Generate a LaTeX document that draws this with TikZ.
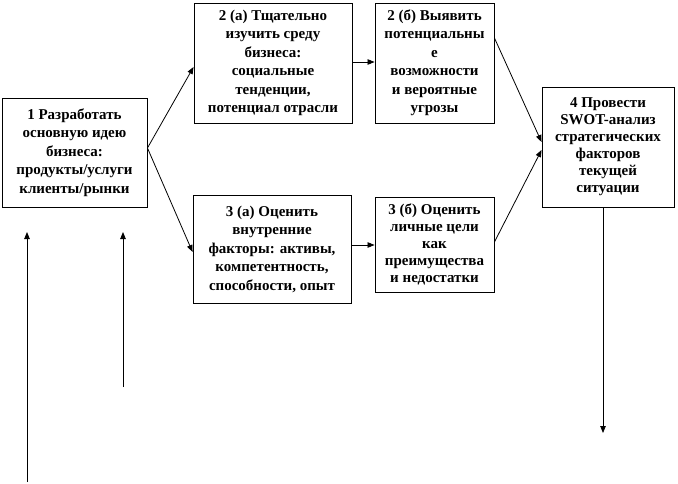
\documentclass[tikz,border=0pt]{standalone}
\usepackage{fontspec}
\setmainfont{Liberation Serif}
\usetikzlibrary{arrows.meta,calc}
\tikzset{
  box/.style={draw=black, line width=0.9pt, rectangle, inner sep=0pt, align=center,
    font=\bfseries\fontsize{15}{18.5}\selectfont},
  arr/.style={draw=black, line width=0.8pt, -{Triangle[length=7pt,width=5.5pt]}},
}
\begin{document}
\begin{tikzpicture}[x=1pt,y=-1pt]
\useasboundingbox (0,0) rectangle (678,484);
\node[box, minimum width=145pt, minimum height=109pt] (b1) at (74.5,152.5)
  {1 Разработать\\основную идею\\бизнеса:\\продукты/услуги\\клиенты/рынки};
\node[box, minimum width=158pt, minimum height=120pt] (b2a) at (273,63)
  {2 (а) Тщательно\\изучить среду\\бизнеса:\\социальные\\тенденции,\\потенциал отрасли};
\node[box, minimum width=119pt, minimum height=120pt] (b2b) at (434.5,63)
  {2 (б) Выявить\\потенциальны\\е\\возможности\\и вероятные\\угрозы};
\node[box, minimum width=158pt, minimum height=108pt] (b3a) at (272,249)
  {3 (а) Оценить\\внутренние\\факторы:  активы,\\компетентность,\\способности, опыт};
\node[box, minimum width=119pt, minimum height=95pt, font=\bfseries\fontsize{15}{17}\selectfont] (b3b) at (434.5,244.5)
  {3 (б) Оценить\\личные цели\\как\\преимущества\\и недостатки};
\node[box, minimum width=132pt, minimum height=120pt, font=\bfseries\fontsize{15}{17}\selectfont] (b4) at (608,147)
  {4 Провести\\SWOT-анализ\\стратегических\\факторов\\текущей\\ситуации};

\coordinate (down) at (603,433);
\coordinate (u1s) at (27,482);
\coordinate (u1e) at (27,232);
\coordinate (u2s) at (123,387);
\coordinate (u2e) at (123,232);

\draw[arr] ([yshift=4.5pt]b1.east) -- ([yshift=-4pt]b2a.west);
\draw[arr] ([yshift=4.5pt]b1.east) -- ([yshift=-3pt]b3a.west);
\draw[arr] ([yshift=1pt]b2a.east) coordinate (s1) -- (s1 -| b2b.west);
\draw[arr] ([yshift=4pt]b3a.east) coordinate (s2) -- (s2 -| b3b.west);
\draw[arr] ([yshift=25pt]b2b.east) -- ([yshift=5pt]b4.west);
\draw[arr] ([yshift=2.5pt]b3b.east) -- ([yshift=-3pt]b4.west);
\draw[arr] ([xshift=-5pt]b4.south) -- (down);
\draw[arr] (u1s) -- (u1e);
\draw[arr] (u2s) -- (u2e);
\end{tikzpicture}
\end{document}
